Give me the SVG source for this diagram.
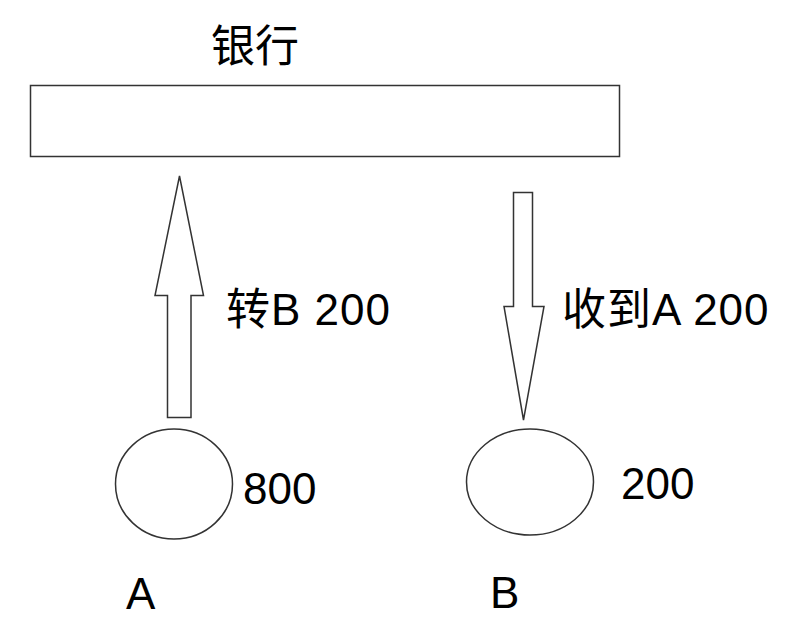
<svg xmlns="http://www.w3.org/2000/svg" width="791" height="629" viewBox="0 0 791 629">
<style>
.shape{fill:#fff;stroke:#333;stroke-width:1.5}
.arrow{fill:#fff;stroke:#333;stroke-width:1.5;stroke-linejoin:miter}
text{font-family:"Liberation Sans","Noto Sans CJK SC",sans-serif;fill:#000;font-size:44px}
</style>
<rect width="791" height="629" fill="#fff"/>
<g id="bank">
<rect class="shape" x="30.5" y="85.5" width="589" height="71"/>
<text x="211" y="62">银行</text>
</g>
<g id="nodeA">
<ellipse class="shape" cx="174" cy="484" rx="58.5" ry="55"/>
<text x="243" y="504">800</text>
<text x="126" y="609">A</text>
</g>
<g id="nodeB">
<ellipse class="shape" cx="530" cy="482" rx="63.5" ry="53"/>
<text x="621" y="499">200</text>
<text x="490" y="608">B</text>
</g>
<g id="connectors">
<polygon class="arrow" points="179.5,176 203.5,295.5 191,295.5 191,417.5 167.5,417.5 167.5,295.5 155,295.5"/>
<text x="226" y="325" style="letter-spacing:1px">转B 200</text>
<polygon class="arrow" points="513.5,192.5 532.5,192.5 532.5,306.5 544,306.5 523.5,420 504,306.5 513.5,306.5"/>
<text x="562" y="325" style="letter-spacing:1px">收到A 200</text>
</g>
</svg>
